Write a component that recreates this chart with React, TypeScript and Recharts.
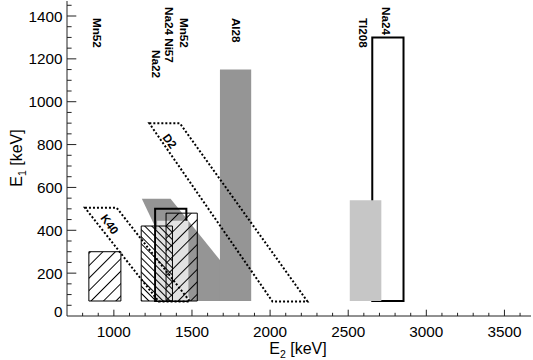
import React from 'react';
import { ComposedChart, XAxis, YAxis, ReferenceArea, ReferenceDot } from 'recharts';

const FONT = '"Liberation Sans", Arial, Helvetica, sans-serif';
const AX = '#222';

// ---- axes ----
const X_DOMAIN = [700, 3670];
const Y_DOMAIN = [0, 1470];
const X_TICKS = [800, 900, 1000, 1100, 1200, 1300, 1400, 1500, 1600, 1700, 1800, 1900, 2000, 2100, 2200, 2300, 2400, 2500, 2600, 2700, 2800, 2900, 3000, 3100, 3200, 3300, 3400, 3500, 3600];
const X_MAJOR = [1000, 1500, 2000, 2500, 3000, 3500];
const Y_TICKS = [0, 50, 100, 150, 200, 250, 300, 350, 400, 450, 500, 550, 600, 650, 700, 750, 800, 850, 900, 950, 1000, 1050, 1100, 1150, 1200, 1250, 1300, 1350, 1400, 1450];
const Y_MAJOR = [0, 200, 400, 600, 800, 1000, 1200, 1400];

// ---- filled / outlined windows: [E2 low, E2 high, E1 low, E1 high] ----
const AL28_BAR = [1679, 1879, 70, 1150];
const NA24_HIGH_BOX = [2654, 2854, 70, 1300];
const TL208_BOX = [2510, 2712, 70, 540];
const NA24_LOW_BOX = [1264, 1464, 70, 500];
const NI57_BOX = [1277, 1477, 70, 445];
const NA22_BOX = [1175, 1375, 70, 420];
const MN52_BOX_A = [1334, 1534, 70, 480];
const MN52_BOX_B = [840, 1045, 70, 300];

// ---- sum-line polygons: [E2, E1] vertices ----
const AL28_BAND = [[1179, 547], [1363, 547], [1688, 253], [1688, 70], [1490, 70]];
const K40_POLY = [[815, 505], [1018, 505], [1487, 68], [1287, 68]];
const D2_POLY = [[1227, 899], [1423, 899], [2239, 68], [2015, 68]];

// ---- isotope labels ----
const LABEL_NAMES = ['Mn52', 'Na24 Ni57', 'Mn52', 'Na22', 'Al28', 'Tl208', 'Na24'];
const LABEL_E2 = [898, 1359, 1455, 1276, 1782, 2595, 2748];
const LABEL_E1 = [1391, 1442, 1391, 1241, 1391, 1391, 1442];

// ---- slanted labels ----
const SLANT_NAMES = ['K40', 'D2'];
const SLANT_E2 = [975, 1359];
const SLANT_E1 = [429, 817];

const BottomTick = (p: any) => {
  const v = p.payload.value;
  const major = X_MAJOR.includes(v);
  return (
    <g>
      <line x1={p.x} x2={p.x} y1={p.y} y2={p.y - (major ? 6.3 : 3.2)} stroke={AX} strokeWidth={1} />
      {major && (
        <text x={p.x} y={p.y + 21} textAnchor="middle" fontFamily={FONT} fontSize={15.3} fill="#000">
          {v}
        </text>
      )}
    </g>
  );
};

const TopTick = (p: any) => {
  const v = p.payload.value;
  const major = X_MAJOR.includes(v);
  return <line x1={p.x} x2={p.x} y1={p.y} y2={p.y + (major ? 6.3 : 3.2)} stroke={AX} strokeWidth={1} />;
};

const LeftTick = (p: any) => {
  const v = p.payload.value;
  const major = Y_MAJOR.includes(v);
  return (
    <g>
      {v !== 0 && <line x1={p.x} x2={p.x + (major ? 9.3 : 4.6)} y1={p.y} y2={p.y} stroke={AX} strokeWidth={1} />}
      {major && (
        <text x={p.x - 4.5} y={p.y + (v === 0 ? 0.5 : 5.5)} textAnchor="end" fontFamily={FONT} fontSize={15.3} fill="#000">
          {v}
        </text>
      )}
    </g>
  );
};

const RightTick = (p: any) => {
  const v = p.payload.value;
  if (v === 0) return <g />;
  const major = Y_MAJOR.includes(v);
  return <line x1={p.x} x2={p.x - (major ? 9.3 : 4.6)} y1={p.y} y2={p.y} stroke={AX} strokeWidth={1} />;
};

const polyShape = (pts: number[][], style: any) => (props: any) => {
  const { x, y, width, height } = props;
  const xs = pts.map((q) => q[0]);
  const ys = pts.map((q) => q[1]);
  const x0 = Math.min(...xs);
  const x1 = Math.max(...xs);
  const y0 = Math.min(...ys);
  const y1 = Math.max(...ys);
  const s = pts
    .map(([e2, e1]) => `${x + ((e2 - x0) / (x1 - x0)) * width},${y + ((y1 - e1) / (y1 - y0)) * height}`)
    .join(' ');
  return <polygon points={s} {...style} />;
};

const bounds = (pts: number[][]) => ({
  x1: Math.min(...pts.map((q) => q[0])),
  x2: Math.max(...pts.map((q) => q[0])),
  y1: Math.min(...pts.map((q) => q[1])),
  y2: Math.max(...pts.map((q) => q[1])),
});

const rectArea = (b: number[], key: string, style: any) => (
  <ReferenceArea
    key={key}
    x1={b[0]}
    x2={b[1]}
    y1={b[2]}
    y2={b[3]}
    fillOpacity={1}
    ifOverflow="visible"
    {...style}
  />
);

const polyArea = (pts: number[][], key: string, style: any) => {
  const b = bounds(pts);
  return (
    <ReferenceArea
      key={key}
      x1={b.x1}
      x2={b.x2}
      y1={b.y1}
      y2={b.y2}
      ifOverflow="visible"
      shape={polyShape(pts, style)}
    />
  );
};

const dotted = { fill: 'none', stroke: '#000', strokeWidth: 2, strokeDasharray: '2 2' };

export default function App() {
  return (
    <div style={{ position: 'absolute', left: 0, top: 0, width: 533, height: 360, background: '#fff' }}>
      <ComposedChart width={533} height={360} margin={{ top: 1, right: 2, left: 0, bottom: 0 }}>
        <defs>
          <pattern id="hFwd" patternUnits="userSpaceOnUse" width={8.8} height={8.8} patternTransform="rotate(45)">
            <line x1={4.4} y1={0} x2={4.4} y2={8.8} stroke="#000" strokeWidth={1} />
          </pattern>
          <pattern id="hBack" patternUnits="userSpaceOnUse" width={5} height={5} patternTransform="rotate(-45)">
            <line x1={2.5} y1={0} x2={2.5} y2={5} stroke="#000" strokeWidth={1} />
          </pattern>
        </defs>
        <XAxis
          xAxisId={0}
          type="number"
          dataKey="e2"
          domain={X_DOMAIN}
          allowDataOverflow
          ticks={X_TICKS}
          interval={0}
          height={44}
          tickSize={0}
          tickMargin={0}
          tickLine={false}
          axisLine={{ stroke: AX, strokeWidth: 1 }}
          tick={BottomTick}
        />
        <XAxis
          xAxisId="top"
          orientation="top"
          type="number"
          domain={X_DOMAIN}
          allowDataOverflow
          ticks={X_TICKS}
          interval={0}
          height={0}
          tickSize={0}
          tickMargin={0}
          tickLine={false}
          axisLine={{ stroke: AX, strokeWidth: 1 }}
          tick={TopTick}
        />
        <YAxis
          yAxisId={0}
          type="number"
          dataKey="e1"
          domain={Y_DOMAIN}
          allowDataOverflow
          ticks={Y_TICKS}
          interval={0}
          width={67}
          tickSize={0}
          tickMargin={0}
          tickLine={false}
          axisLine={{ stroke: AX, strokeWidth: 1 }}
          tick={LeftTick}
        />
        <YAxis
          yAxisId="right"
          orientation="right"
          type="number"
          domain={Y_DOMAIN}
          allowDataOverflow
          ticks={Y_TICKS}
          interval={0}
          width={0}
          tickSize={0}
          tickMargin={0}
          tickLine={false}
          axisLine={{ stroke: AX, strokeWidth: 1 }}
          tick={RightTick}
        />

        {polyArea(AL28_BAND, 'band', { fill: '#959595', stroke: 'none' })}
        {rectArea(AL28_BAR, 'al28', { fill: '#959595', stroke: 'none' })}
        {rectArea(NA24_HIGH_BOX, 'na24h', { fill: 'none', stroke: '#000', strokeWidth: 2 })}
        {rectArea(TL208_BOX, 'tl208', { fill: '#c6c6c6', stroke: 'none' })}
        {rectArea(NA24_LOW_BOX, 'na24l', { fill: 'none', stroke: '#000', strokeWidth: 2 })}
        {rectArea(NI57_BOX, 'ni57', { fill: '#e2e2e2', stroke: 'none' })}
        {rectArea(NA22_BOX, 'na22', { fill: 'url(#hBack)', stroke: '#000', strokeWidth: 1 })}
        {rectArea(MN52_BOX_A, 'mn52a', { fill: 'url(#hFwd)', stroke: '#000', strokeWidth: 1 })}
        {rectArea(MN52_BOX_B, 'mn52b', { fill: 'url(#hFwd)', stroke: '#000', strokeWidth: 1 })}
        {polyArea(K40_POLY, 'k40', dotted)}
        {polyArea(D2_POLY, 'd2', dotted)}

        {LABEL_NAMES.map((name, i) => (
          <ReferenceDot
            key={'l' + i}
            x={LABEL_E2[i]}
            y={LABEL_E1[i]}
            r={0}
            ifOverflow="visible"
            shape={(p: any) => (
              <text
                x={p.cx}
                y={p.cy}
                transform={`rotate(90 ${p.cx} ${p.cy})`}
                textAnchor="start"
                dominantBaseline="central"
                fontFamily={FONT}
                fontWeight="bold"
                fontSize={11.7}
                fill="#000"
              >
                {name}
              </text>
            )}
          />
        ))}
        {SLANT_NAMES.map((name, i) => (
          <ReferenceDot
            key={'s' + i}
            x={SLANT_E2[i]}
            y={SLANT_E1[i]}
            r={0}
            ifOverflow="visible"
            shape={(p: any) => (
              <text
                x={p.cx}
                y={p.cy}
                transform={`rotate(54 ${p.cx} ${p.cy})`}
                textAnchor="middle"
                dominantBaseline="central"
                fontFamily={FONT}
                fontWeight="bold"
                fontSize={11.7}
                fill="#000"
              >
                {name}
              </text>
            )}
          />
        ))}
      </ComposedChart>
      <svg width={533} height={360} style={{ position: 'absolute', left: 0, top: 0, pointerEvents: 'none' }}>
        <text x={298} y={354} textAnchor="middle" fontFamily={FONT} fontSize={16} fill="#000">
          E<tspan dy={3.5} fontSize={10.5}>2</tspan>
          <tspan dy={-3.5}> [keV]</tspan>
        </text>
        <text
          x={22}
          y={158}
          transform="rotate(-90 22 158)"
          textAnchor="middle"
          fontFamily={FONT}
          fontSize={16}
          fill="#000"
        >
          E<tspan dy={3.5} fontSize={10.5}>1</tspan>
          <tspan dy={-3.5}> [keV]</tspan>
        </text>
      </svg>
    </div>
  );
}
